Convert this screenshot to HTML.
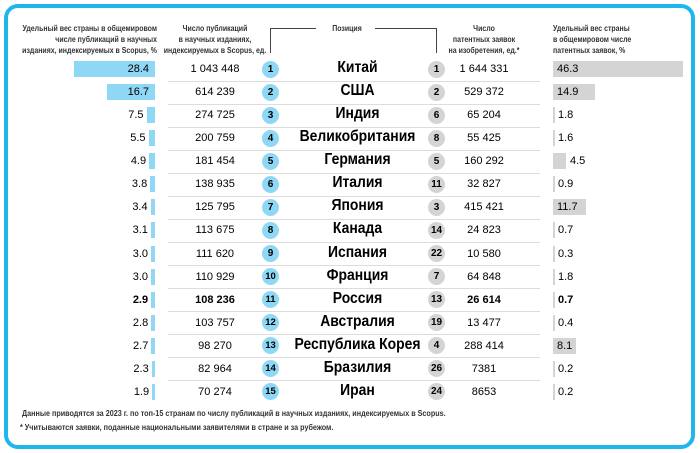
<!DOCTYPE html>
<html><head><meta charset="utf-8"><style>
body{margin:0;width:700px;height:453px;background:#fff;font-family:"Liberation Sans","DejaVu Sans",sans-serif;position:relative;overflow:hidden}
.frame{position:absolute;left:4px;top:4px;width:683px;height:437px;border:4px solid #1fb6ec;border-radius:14px}
.h{position:absolute;font-size:8.5px;font-weight:bold;color:#333;line-height:11px;transform:scaleX(.82);white-space:nowrap}
.a{position:absolute;white-space:nowrap}
.sep{position:absolute;left:168px;width:372px;height:1px;background:#ddd}
.c{position:absolute;width:17px;height:17px;border-radius:50%;font-size:10px;font-weight:bold;text-align:center;line-height:17px}
.f{position:absolute;font-size:8px;color:#333;font-weight:bold;white-space:nowrap;transform:scaleX(.9);transform-origin:left}
</style></head><body>
<div class="frame"></div>
<div class="h" style="left:-10px;top:23px;width:167px;text-align:right;transform-origin:right">Удельный вес страны в общемировом<br>числе публикаций в научных<br>изданиях, индексируемых в Scopus, %</div>
<div class="h" style="left:145px;top:23px;width:140px;text-align:center">Число публикаций<br>в научных изданиях,<br>индексируемых в Scopus, ед.</div>
<div style="position:absolute;left:270px;top:28px;width:45px;height:24px;border-top:1px solid #444;border-left:1px solid #444"></div>
<div class="h" style="left:317px;top:23px;width:60px;text-align:center">Позиция</div>
<div style="position:absolute;left:375px;top:28px;width:61px;height:24px;border-top:1px solid #444;border-right:1px solid #444"></div>
<div class="h" style="left:434px;top:23px;width:100px;text-align:center">Число<br>патентных заявок<br>на изобретения, ед.*</div>
<div class="h" style="left:553px;top:23px;width:130px;transform-origin:left">Удельный вес страны<br>в общемировом числе<br>патентных заявок, %</div>
<div id="rows"></div>
<div class="f" style="left:22px;top:409px">Данные приводятся за 2023 г. по топ-15 странам по числу публикаций в научных изданиях, индексируемых в Scopus.</div>
<div class="f" style="left:20px;top:423px">* Учитываются заявки, поданные национальными заявителями в стране и за рубежом.</div>
<script>
var d=[["28.4","1 043 448","Китай","1","1 644 331","46.3"],["16.7","614 239","США","2","529 372","14.9"],["7.5","274 725","Индия","6","65 204","1.8"],["5.5","200 759","Великобритания","8","55 425","1.6"],["4.9","181 454","Германия","5","160 292","4.5"],["3.8","138 935","Италия","11","32 827","0.9"],["3.4","125 795","Япония","3","415 421","11.7"],["3.1","113 675","Канада","14","24 823","0.7"],["3.0","111 620","Испания","22","10 580","0.3"],["3.0","110 929","Франция","7","64 848","1.8"],["2.9","108 236","Россия","13","26 614","0.7"],["2.8","103 757","Австралия","19","13 477","0.4"],["2.7","98 270","Республика Корея","4","288 414","8.1"],["2.3","82 964","Бразилия","26","7381","0.2"],["1.9","70 274","Иран","24","8653","0.2"]];
var h="";
d.forEach(function(r,i){
var y=69+i*23.07,b=(i==10)?"bold":"normal";
var lv=parseFloat(r[0]),lw=lv>10?lv*2.85:lv*1.0+1,rv=parseFloat(r[5]),rw=rv>4?rv*2.8:Math.max(2,rv);
h+='<div style="position:absolute;left:'+(155-lw)+'px;top:'+(y-8)+'px;width:'+lw+'px;height:16px;background:#8fd8f5"></div>';
h+='<div class="a" style="right:'+(lv>10?551:700-155+lw+3)+'px;top:'+(y-6)+'px;font-size:11px;font-weight:'+b+'">'+r[0]+'</div>';
h+='<div class="a" style="left:165px;width:100px;text-align:center;top:'+(y-6)+'px;font-size:11px;font-weight:'+b+'">'+r[1]+'</div>';
h+='<div class="c" style="left:262px;top:'+(y-8.5)+'px;background:#8fd8f5;'+(i+1>9?'font-size:9.5px':'')+'">'+(i+1)+'</div>';
h+='<div class="a" style="left:280px;width:155px;text-align:center;top:'+(y-10)+'px;font-size:16px;font-weight:bold;transform:scaleX(.87)">'+r[2]+'</div>';
h+='<div class="c" style="left:428px;top:'+(y-8.5)+'px;background:#d4d4d4">'+r[3]+'</div>';
h+='<div class="a" style="left:444px;width:80px;text-align:center;top:'+(y-6)+'px;font-size:11px;font-weight:'+b+'">'+r[4]+'</div>';
h+='<div style="position:absolute;left:553px;top:'+(y-8)+'px;width:'+rw+'px;height:16px;background:#d4d4d4"></div>';
h+='<div class="a" style="left:'+(rv>4&&rv<5?570:(rv>4?557:558))+'px;top:'+(y-6)+'px;font-size:11px;font-weight:'+b+'">'+r[5]+'</div>';
if(i<14)h+='<div class="sep" style="top:'+(y+11.5)+'px"></div>';
});
document.getElementById("rows").innerHTML=h;
</script>
</body></html>
